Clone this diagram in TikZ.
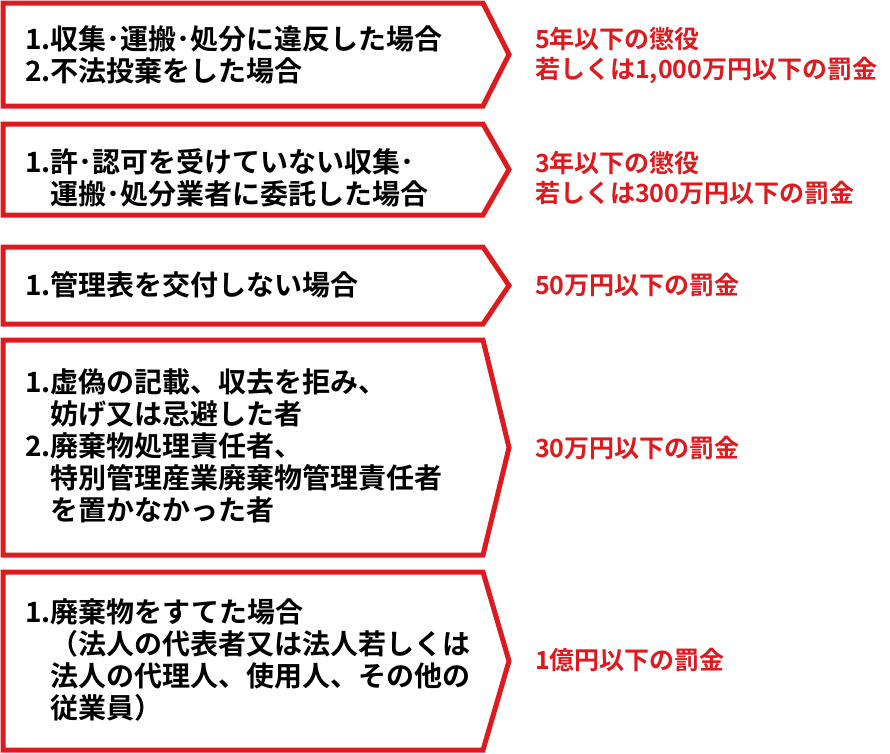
\documentclass[tikz,border=0pt]{standalone}
\usepackage{fontspec}
\newfontfamily\jp{Noto Sans CJK JP Bold}
\definecolor{myred}{RGB}{221,26,30}
\begin{document}
\begin{tikzpicture}[x=1pt,y=-1pt,
  lbl/.style={anchor=west,align=left,font=\jp\fontsize{28}{32}\selectfont,inner sep=0},
  pen/.style={anchor=west,align=left,text=myred,font=\jp\fontsize{25}{30}\selectfont,inner sep=0},
  chev/.style={draw=myred,line width=5pt,line join=miter}]
\useasboundingbox (0,0) rectangle (890,753);
\draw[chev] (3,3) -- (483,3) -- (509,54.5) -- (483,106) -- (3,106) -- cycle;
\draw[chev] (3,124) -- (483,124) -- (509,169.5) -- (483,215) -- (3,215) -- cycle;
\draw[chev] (3,247) -- (483,247) -- (509,285.5) -- (483,324) -- (3,324) -- cycle;
\draw[chev] (3,340) -- (483,340) -- (509,447.5) -- (483,555) -- (3,555) -- cycle;
\draw[chev] (3,572) -- (483,572) -- (509,661) -- (483,750) -- (3,750) -- cycle;
\node[lbl] (t1) at (25,55) {1.収集･運搬･処分に違反した場合\\2.不法投棄をした場合};
\node[lbl] (t2) at (25,178) {1.許･認可を受けていない収集･\\\phantom{1.}運搬･処分業者に委託した場合};
\node[lbl] (t3) at (25,285) {1.管理表を交付しない場合};
\node[lbl] (t4) at (25,446) {1.虚偽の記載、収去を拒み、\\\phantom{1.}妨げ又は忌避した者\\2.廃棄物処理責任者、\\\phantom{1.}特別管理産業廃棄物管理責任者\\\phantom{1.}を置かなかった者};
\node[lbl] (t5) at (25,660) {1.廃棄物をすてた場合\\\phantom{1.}（法人の代表者又は法人若しくは\\\phantom{1.}法人の代理人、使用人、その他の\\\phantom{1.}従業員）};
\node[pen] (p1) at (535,55) {5年以下の懲役\\若しくは1,000万円以下の罰金};
\node[pen] (p2) at (535,178) {3年以下の懲役\\若しくは300万円以下の罰金};
\node[pen] (p3) at (535,285) {50万円以下の罰金};
\node[pen] (p4) at (535,448) {30万円以下の罰金};
\node[pen] (p5) at (535,660) {1億円以下の罰金};
\end{tikzpicture}
\end{document}
